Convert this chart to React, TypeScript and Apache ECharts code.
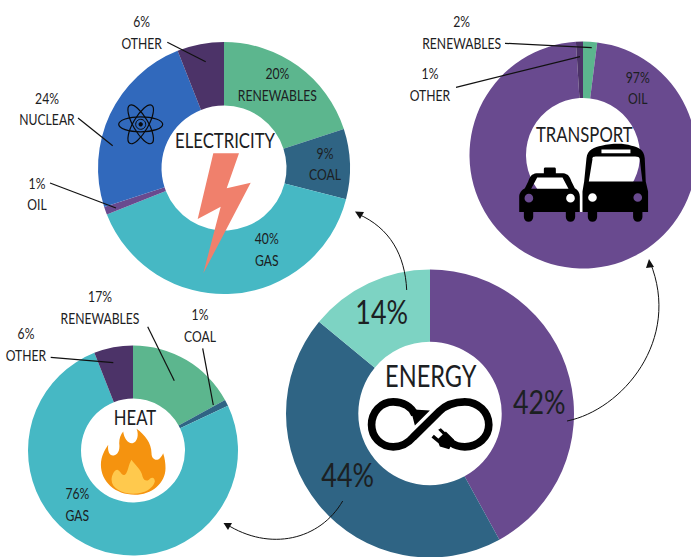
import React, { useEffect, useRef } from "react";
import * as echarts from "echarts";

// ---- data ----
const electricityNames = ["RENEWABLES", "COAL", "GAS", "OIL", "NUCLEAR", "OTHER"];
const electricityValues = [20, 9, 40, 1, 24, 6];
const transportNames = ["RENEWABLES", "OIL", "OTHER"];
const transportValues = [2, 97, 1];
const heatNames = ["RENEWABLES", "COAL", "GAS", "OTHER"];
const heatValues = [17, 1, 76, 6];
const energyNames = ["TRANSPORT", "HEAT", "ELECTRICITY"];
const energyValues = [42, 44, 14];

// ---- style ----
const COLORS: Record<string, string> = {
  RENEWABLES: "#5CB68E",
  COAL: "#2F6484",
  GAS: "#46B8C4",
  OIL: "#694A8F",
  NUCLEAR: "#3169BC",
  OTHER: "#4C3368",
};
const ENERGY_COLORS: Record<string, string> = {
  TRANSPORT: "#694A8F",
  HEAT: "#2F6484",
  ELECTRICITY: "#7DD3C3",
};
const FONT = "Lato, 'Open Sans', sans-serif";
const NARROW = 0.76;
const INK = "#1c2022";

const busPath =
  "M560,475 C562,450 585,442 605,438 C640,430 670,430 695,438 C715,442 733,450 735,475 L738,545 L745,575 L745,637 L728,637 L728,652 A14,14 0 0 1 700,652 L700,637 L592,637 L592,652 A14,14 0 0 1 564,652 L564,637 L548,637 L548,575 L553,545 Z " +
  "M578,478 L567,545 L728,545 L720,478 C720,472 714,470 706,470 L590,470 C582,470 576,472 578,478 Z " +
  "M605,449 L605,460 L692,460 L692,449 Z " +
  "M565,593 A13,13 0 1 0 591,593 A13,13 0 1 0 565,593 Z " +
  "M701,593 A13,13 0 1 0 727,593 A13,13 0 1 0 701,593 Z";
const taxiPath =
  "M432,520 L432,508 C432,504 434,503 438,503 L462,503 C466,503 468,504 468,508 L468,520 L490,520 C505,522 510,530 515,545 L525,565 C535,570 540,580 540,590 L540,637 L526,637 L526,652 A14,14 0 0 1 498,652 L498,637 L400,637 L400,652 A14,14 0 0 1 372,652 L372,637 L358,637 L358,590 C358,580 365,570 375,565 L385,545 C390,530 395,522 410,520 Z " +
  "M412,533 L394,567 L506,567 L488,533 Z " +
  "M374,595 A13,13 0 1 0 400,595 A13,13 0 1 0 374,595 Z " +
  "M499,595 A13,13 0 1 0 525,595 A13,13 0 1 0 499,595 Z";
const infinityPath =
  "M405,465 C395,440 370,426 340,426 C303,426 275,457 275,495 C275,532 303,561 340,561 C368,561 385,550 400,532 L478,455 C495,438 520,426 555,426 C595,426 627,457 627,495 C627,532 595,561 555,561 C540,561 525,557 513,548";
const plugPath =
  "M390,448 L450,452 L405,497 L398,470 Z " +
  "M498,515 L523,540 L508,568 L480,560 L472,540 Z " +
  "M475,510 L483,505 L502,523 L495,530 Z " +
  "M455,533 L462,525 L483,543 L476,550 Z";
const flameOuterPath =
  "M405,645 C345,645 303,605 303,555 C303,530 315,510 325,495 C322,515 330,530 342,527 C358,522 360,505 358,490 C358,475 362,465 370,455 C372,475 385,492 398,490 C412,488 418,465 410,447 C435,465 455,490 455,520 C455,538 470,545 480,535 C485,530 488,525 490,520 C495,535 497,550 497,565 C497,610 455,645 405,645 Z";
const flameInnerPath =
  "M400,642 C365,642 335,625 335,600 C335,585 345,570 352,570 C362,572 365,590 375,585 C385,578 385,555 395,540 C405,555 425,570 428,590 C432,605 445,605 450,597 C458,590 465,595 465,605 C460,625 435,642 400,642 Z";

echarts.graphic.registerShape("busIcon", echarts.graphic.extendPath(busPath, {}));
echarts.graphic.registerShape("taxiIcon", echarts.graphic.extendPath(taxiPath, {}));
echarts.graphic.registerShape("infinityLoop", echarts.graphic.extendPath(infinityPath, {}));
echarts.graphic.registerShape("plugParts", echarts.graphic.extendPath(plugPath, {}));
echarts.graphic.registerShape("flameOuter", echarts.graphic.extendPath(flameOuterPath, {}));
echarts.graphic.registerShape("flameInner", echarts.graphic.extendPath(flameInnerPath, {}));

const pie = (
  name: string,
  names: string[],
  values: number[],
  palette: Record<string, string>,
  center: number[],
  radius: number[],
) => ({
  type: "pie",
  name,
  center,
  radius,
  startAngle: 90,
  clockwise: true,
  silent: true,
  label: { show: false },
  labelLine: { show: false },
  emphasis: { disabled: true },
  data: names.map((n, i) => ({ name: n, value: values[i], itemStyle: { color: palette[n] } })),
});

const pct = (names: string[], values: number[], name: string) => `${values[names.indexOf(name)]}%`;

const label = (text: string, x: number, y: number, fontSize = 16, scaleX = NARROW, lineHeight = 21.5) => ({
  type: "text",
  z: 20,
  x,
  y,
  scaleX,
  style: {
    text,
    x: 0,
    y: 0,
    align: "center",
    verticalAlign: "middle",
    fontFamily: FONT,
    fontSize,
    lineHeight,
    fill: INK,
  },
});
const sliceLabel = (names: string[], values: number[], name: string, x: number, y: number) =>
  label(`${pct(names, values, name)}\n${name}`, x, y);

const leader = (x1: number, y1: number, x2: number, y2: number) => ({
  type: "line",
  z: 15,
  shape: { x1, y1, x2, y2 },
  style: { stroke: "#111", lineWidth: 1.2 },
});

const curve = (x1: number, y1: number, cpx1: number, cpy1: number, cpx2: number, cpy2: number, x2: number, y2: number) => ({
  type: "bezierCurve",
  z: 15,
  shape: { x1, y1, cpx1, cpy1, cpx2, cpy2, x2, y2 },
  style: { stroke: "#111", lineWidth: 1, fill: "none" },
});
const head = (pts: number[][]) => ({
  type: "polygon",
  z: 15,
  shape: { points: pts },
  style: { fill: "#111" },
});

const icon = (type: string, ox: number, oy: number, style: any) => ({
  type,
  z: 18,
  x: ox,
  y: oy,
  scaleX: 1 / 3,
  scaleY: 1 / 3,
  style,
});

const orbit = (rotation: number) => ({
  type: "ellipse",
  z: 18,
  x: 140.7,
  y: 124.3,
  rotation,
  shape: { cx: 0, cy: 0, rx: 22, ry: 7.5 },
  style: { fill: "none", stroke: "#0a0a0a", lineWidth: 1.2 },
});

const graphics: any[] = [
  // electricity
  sliceLabel(electricityNames, electricityValues, "OTHER", 141.7, 32),
  sliceLabel(electricityNames, electricityValues, "RENEWABLES", 277.3, 84),
  sliceLabel(electricityNames, electricityValues, "COAL", 325, 163.5),
  sliceLabel(electricityNames, electricityValues, "GAS", 266.7, 249),
  sliceLabel(electricityNames, electricityValues, "NUCLEAR", 47, 108.5),
  sliceLabel(electricityNames, electricityValues, "OIL", 37, 193.5),
  label("ELECTRICITY", 225, 140, 22),
  leader(167.3, 42.3, 205.7, 61.7),
  leader(78, 118, 112.7, 145.7),
  leader(50, 183, 116, 208),
  {
    type: "polygon",
    z: 18,
    shape: {
      points: [
        [213.3, 153.3],
        [239, 153.3],
        [226.7, 188.3],
        [250.7, 182.7],
        [203.3, 273.3],
        [220.7, 206.7],
        [197.7, 219],
      ],
    },
    style: { fill: "#F0806C" },
  },
  orbit(0),
  orbit(Math.PI / 3),
  orbit(-Math.PI / 3),
  {
    type: "circle",
    z: 18,
    shape: { cx: 140.7, cy: 124.3, r: 5 },
    style: { fill: "none", stroke: "#0a0a0a", lineWidth: 1 },
  },
  {
    type: "circle",
    z: 18,
    shape: { cx: 140.7, cy: 124.3, r: 2.2 },
    style: { fill: "#0a0a0a" },
  },
  // transport
  sliceLabel(transportNames, transportValues, "RENEWABLES", 461.7, 32),
  sliceLabel(transportNames, transportValues, "OTHER", 430, 84),
  sliceLabel(transportNames, transportValues, "OIL", 637.7, 87.5),
  label("TRANSPORT", 584.3, 134, 22),
  leader(505, 43.3, 591.7, 47.7),
  leader(456, 87.3, 580, 56.7),
  icon("busIcon", 400, 0, { fill: "#000" }),
  icon("taxiIcon", 400, 0, { fill: "#000" }),
  // heat
  sliceLabel(heatNames, heatValues, "RENEWABLES", 100, 306.7),
  sliceLabel(heatNames, heatValues, "COAL", 200, 325),
  sliceLabel(heatNames, heatValues, "OTHER", 26, 344),
  sliceLabel(heatNames, heatValues, "GAS", 77.3, 504),
  label("HEAT", 135, 416.7, 22),
  leader(50.7, 357.3, 113.3, 362.7),
  leader(147.7, 326.7, 174.3, 380.7),
  leader(202.7, 348.3, 213.3, 405),
  icon("flameOuter", 0, 280, { fill: "#F5930F" }),
  icon("flameInner", 0, 280, { fill: "#FFC94D" }),
  // energy
  label("ENERGY", 430.7, 375, 31),
  label(pct(energyNames, energyValues, "ELECTRICITY"), 381.7, 311.7, 32, 0.84),
  label(pct(energyNames, energyValues, "TRANSPORT"), 539.3, 401.7, 32, 0.84),
  label(pct(energyNames, energyValues, "HEAT"), 347.7, 474.3, 32, 0.84),
  icon("infinityLoop", 280, 260, { fill: "none", stroke: "#000", lineWidth: 23 }),
  icon("plugParts", 280, 260, { fill: "#000" }),
  // arrows
  curve(406.7, 290, 405, 255, 390, 228, 358, 214),
  head([[355, 211.5], [364, 212], [360, 219]]),
  curve(567, 421, 622, 410, 682, 340, 650, 262),
  head([[649, 259], [654, 267], [646, 268]]),
  curve(342.7, 501, 320, 540, 270, 552, 226, 524),
  head([[223.5, 523], [232, 523], [228, 530]]),
];

export default function App() {
  const ref = useRef<HTMLDivElement>(null);
  useEffect(() => {
    document.body.style.margin = "0";
    const chart = echarts.init(ref.current!, null, { renderer: "svg" });
    chart.setOption({
      animation: false,
      backgroundColor: "#ffffff",
      series: [
        pie("Electricity", electricityNames, electricityValues, COLORS, [224, 168], [62.5, 126]),
        pie("Transport", transportNames, transportValues, COLORS, [583, 155], [57, 113.5]),
        pie("Heat", heatNames, heatValues, COLORS, [133, 450.5], [52, 105]),
        pie("Energy", energyNames, energyValues, ENERGY_COLORS, [430, 413.5], [71.7, 144]),
      ],
      graphic: { elements: graphics },
    });
    return () => chart.dispose();
  }, []);
  return <div ref={ref} style={{ width: 691, height: 557 }} />;
}
